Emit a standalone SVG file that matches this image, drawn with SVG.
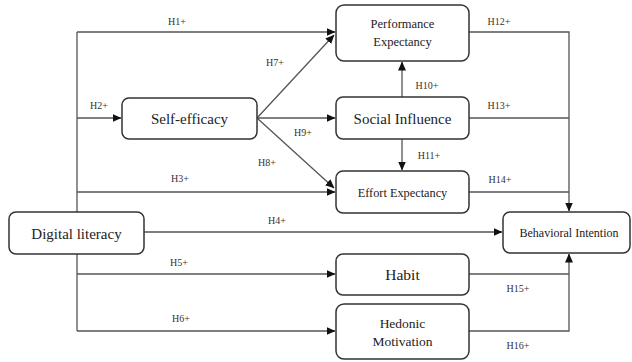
<svg xmlns="http://www.w3.org/2000/svg" width="632" height="362" viewBox="0 0 632 362" font-family="Liberation Serif, Tinos, DejaVu Serif, Noto Serif, serif">
<style>
.box{fill:#fff;stroke:#333;stroke-width:1.5}
.ln{fill:none;stroke:#555;stroke-width:1.3}
.t{fill:#222;text-anchor:middle}
.lb{fill:#333;font-size:10px;text-anchor:middle}
</style>
<defs>
<marker id="ah" markerWidth="9" markerHeight="8" refX="8.5" refY="4" orient="auto" markerUnits="userSpaceOnUse">
<path d="M0,0 L9,4 L0,8 Z" fill="#111"/>
</marker>
</defs>
<rect width="632" height="362" fill="#fff"/>
<g id="connectors">
<path class="ln" d="M77,32 V331"/>
<path class="ln" d="M77,32 H335" marker-end="url(#ah)"/>
<path class="ln" d="M77,118 H121" marker-end="url(#ah)"/>
<path class="ln" d="M77,192 H335" marker-end="url(#ah)"/>
<path class="ln" d="M144,232 H502" marker-end="url(#ah)"/>
<path class="ln" d="M77,274 H335" marker-end="url(#ah)"/>
<path class="ln" d="M77,331 H335" marker-end="url(#ah)"/>
<path class="ln" d="M257,118 L334,35" marker-end="url(#ah)"/>
<path class="ln" d="M257,118 H335" marker-end="url(#ah)"/>
<path class="ln" d="M257,118 L334,188" marker-end="url(#ah)"/>
<path class="ln" d="M402,97 V62" marker-end="url(#ah)"/>
<path class="ln" d="M402,139 V170" marker-end="url(#ah)"/>
<path class="ln" d="M469,32 H569 V211" marker-end="url(#ah)"/>
<path class="ln" d="M469,118 H569"/>
<path class="ln" d="M469,192 H569"/>
<path class="ln" d="M469,331 H569 V254" marker-end="url(#ah)"/>
<path class="ln" d="M469,274 H569"/>
<g>
<text class="lb" x="177" y="24.5">H1+</text>
<text class="lb" x="99" y="108.5">H2+</text>
<text class="lb" x="180" y="181.5">H3+</text>
<text class="lb" x="277" y="223.5">H4+</text>
<text class="lb" x="179" y="265.5">H5+</text>
<text class="lb" x="181" y="321.5">H6+</text>
<text class="lb" x="275" y="65.5">H7+</text>
<text class="lb" x="267" y="165.5">H8+</text>
<text class="lb" x="303" y="135.5">H9+</text>
<text class="lb" x="427" y="88.5">H10+</text>
<text class="lb" x="429" y="158.5">H11+</text>
<text class="lb" x="499" y="24.5">H12+</text>
<text class="lb" x="499" y="108.5">H13+</text>
<text class="lb" x="500" y="182.5">H14+</text>
<text class="lb" x="518" y="291.5">H15+</text>
<text class="lb" x="518" y="348.5">H16+</text>
</g>
</g>
<g id="performance-expectancy">
<rect class="box" x="336" y="5" width="133" height="56" rx="8"/>
<text class="t" x="402.5" y="28" font-size="12.5">Performance</text>
<text class="t" x="402.5" y="46" font-size="12.5">Expectancy</text>
</g>
<g id="self-efficacy">
<rect class="box" x="122" y="98" width="135" height="41" rx="7"/>
<text class="t" x="189.5" y="123.5" font-size="15">Self-efficacy</text>
</g>
<g id="social-influence">
<rect class="box" x="336" y="97" width="133" height="42" rx="7"/>
<text class="t" x="402.5" y="123.5" font-size="15">Social Influence</text>
</g>
<g id="effort-expectancy">
<rect class="box" x="336" y="171" width="133" height="42" rx="7"/>
<text class="t" x="402.5" y="197" font-size="12.3">Effort Expectancy</text>
</g>
<g id="digital-literacy">
<rect class="box" x="9" y="212" width="135" height="42" rx="7"/>
<text class="t" x="76.5" y="238.5" font-size="15">Digital literacy</text>
</g>
<g id="behavioral-intention">
<rect class="box" x="503" y="212" width="127" height="41" rx="7"/>
<text class="t" x="569" y="237" font-size="12">Behavioral Intention</text>
</g>
<g id="habit">
<rect class="box" x="336" y="254" width="133" height="41" rx="7"/>
<text class="t" x="402.5" y="279.5" font-size="15.5">Habit</text>
</g>
<g id="hedonic-motivation">
<rect class="box" x="336" y="304" width="133" height="55" rx="8"/>
<text class="t" x="402.5" y="327.5" font-size="13.5">Hedonic</text>
<text class="t" x="402.5" y="345.5" font-size="13.5">Motivation</text>
</g>
</svg>
